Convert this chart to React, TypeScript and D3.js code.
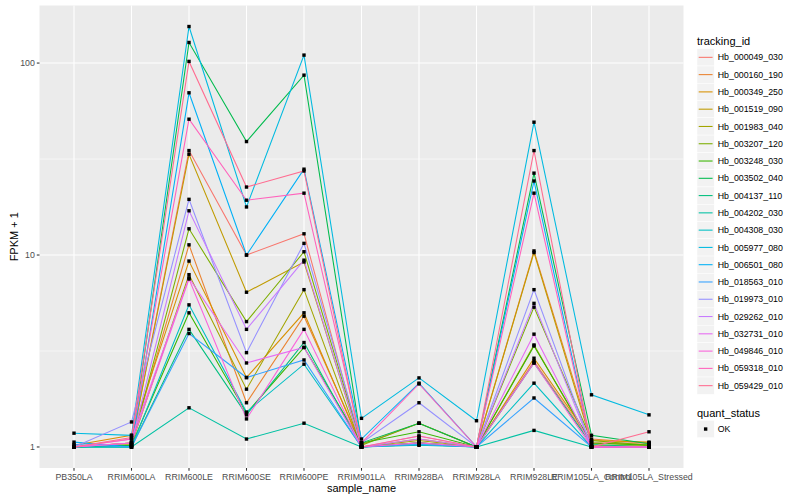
import React from "react";
import * as d3 from "d3";

const samples = [
  "PB350LA", "RRIM600LA", "RRIM600LE", "RRIM600SE", "RRIM600PE", "RRIM901LA",
  "RRIM928BA", "RRIM928LA", "RRIM928LE", "RRIM105LA_Control", "RRIM105LA_Stressed",
];

const trackingIds = [
  "Hb_000049_030", "Hb_000160_190", "Hb_000349_250", "Hb_001519_090", "Hb_001983_040",
  "Hb_003207_120", "Hb_003248_030", "Hb_003502_040", "Hb_004137_110", "Hb_004202_030",
  "Hb_004308_030", "Hb_005977_080", "Hb_006501_080", "Hb_018563_010", "Hb_019973_010",
  "Hb_029262_010", "Hb_032731_010", "Hb_049846_010", "Hb_059318_010", "Hb_059429_010",
];

const seriesColors = [
  "#F8766D", "#EA8331", "#D89000", "#C09B00", "#A3A500", "#7CAE00", "#39B600", "#00BB4E",
  "#00BF7D", "#00C1A3", "#00BFC4", "#00BAE0", "#00B0F6", "#35A2FF", "#9590FF", "#C77CFF",
  "#E76BF3", "#FA62DB", "#FF62BC", "#FF6C91",
];

// FPKM + 1 per tracking id, in sample order
const v000049 = [1, 1.05, 35, 10, 12.9, 1, 1.05, 1, 2.8, 1.05, 1.05];
const v000160 = [1, 1.05, 11.3, 1.7, 4.8, 1.03, 1.33, 1, 10.5, 1.1, 1.05];
const v000349 = [1.02, 1.15, 9.3, 2.3, 5.0, 1, 1.1, 1, 2.9, 1.08, 1.06];
const v001519 = [1, 1.05, 33.5, 6.4, 9.2, 1, 1.05, 1, 10.3, 1.05, 1.03];
const v001983 = [1, 1.03, 7.9, 2.0, 6.6, 1, 1.08, 1, 3.4, 1.02, 1.02];
const v003207 = [1, 1.02, 13.7, 4.5, 10.4, 1.02, 1.33, 1, 5.35, 1.08, 1.02];
const v003248 = [1, 1.02, 5.0, 1.5, 3.3, 1.05, 1.2, 1, 3.36, 1.05, 1.02];
const v003502 = [1, 1.02, 128, 39, 86.5, 1.05, 1.33, 1, 26.7, 1.15, 1.04];
const v004137 = [1, 1.0, 4.1, 1.47, 3.5, 1, 1.05, 1, 2.74, 1.03, 1];
const v004202 = [1, 1.0, 1.6, 1.1, 1.33, 1, 1.02, 1, 1.22, 1, 1];
const v004308 = [1, 1.0, 5.5, 1.52, 2.7, 1, 1.03, 1, 2.15, 1, 1];
const v005977 = [1.18, 1.15, 155, 17.8, 110, 1.41, 2.29, 1.37, 49.2, 1.87, 1.47];
const v006501 = [1.06, 1.0, 70, 10, 28, 1.1, 2.15, 1, 24.3, 1, 1];
const v018563 = [1.03, 1.0, 3.9, 2.3, 2.84, 1, 1.03, 1, 1.8, 1, 1];
const v019973 = [1, 1.35, 19.5, 3.1, 11.5, 1.05, 1.7, 1, 6.6, 1, 1];
const v029262 = [1, 1.05, 17, 4.1, 9.4, 1, 1.1, 1, 5.6, 1, 1];
const v032731 = [1, 1.1, 7.6, 2.74, 3.3, 1, 1.14, 1, 3.87, 1, 1];
const v049846 = [1, 1.05, 7.5, 1.4, 4.1, 1, 1.05, 1, 2.74, 1, 1];
const v059318 = [1, 1.1, 51, 19.3, 21, 1.05, 2.13, 1, 21, 1, 1];
const v059429 = [1, 1.12, 102, 22.6, 27.4, 1, 1.14, 1, 35, 1, 1.2];

const seriesValues = [
  v000049, v000160, v000349, v001519, v001983, v003207, v003248, v003502, v004137, v004202,
  v004308, v005977, v006501, v018563, v019973, v029262, v032731, v049846, v059318, v059429,
];

const yTicks = [1, 10, 100];
const yMinor = [Math.pow(10, 0.5), Math.pow(10, 1.5)];

const W = 800;
const H = 500;
const panel = { left: 39.5, right: 683.5, top: 5.5, bottom: 468 };
const FONT = "'Liberation Sans', Arial, Helvetica, sans-serif";

export default function App() {
  const all = seriesValues.flat();
  const lo = Math.log10(d3.min(all)!);
  const hi = Math.log10(d3.max(all)!);
  const pad = (hi - lo) * 0.05;
  const y = d3
    .scaleLog()
    .domain([Math.pow(10, lo - pad), Math.pow(10, hi + pad)])
    .range([panel.bottom, panel.top]);
  const x = d3
    .scalePoint<string>()
    .domain(samples)
    .range([panel.left, panel.right])
    .padding(0.6);

  const line = d3
    .line<number>()
    .x((_, i) => x(samples[i])!)
    .y((d) => y(d));

  const legX = 697;
  const keyH = 17.28;
  const legTop = 48.7;
  const sq = 3.4;

  return (
    <svg
      width={W}
      height={H}
      style={{ position: "absolute", left: 0, top: 0, background: "#fff" }}
      fontFamily={FONT}
    >
      <rect x={0} y={0} width={W} height={H} fill="#fff" />
      <rect
        x={panel.left}
        y={panel.top}
        width={panel.right - panel.left}
        height={panel.bottom - panel.top}
        fill="#EBEBEB"
      />
      {yMinor.map((t) => (
        <line key={"ym" + t} x1={panel.left} x2={panel.right} y1={y(t)} y2={y(t)} stroke="#fff" strokeWidth={0.55} />
      ))}
      {yTicks.map((t) => (
        <line key={"yg" + t} x1={panel.left} x2={panel.right} y1={y(t)} y2={y(t)} stroke="#fff" strokeWidth={1.07} />
      ))}
      {samples.map((s) => (
        <line key={"xg" + s} x1={x(s)} x2={x(s)} y1={panel.top} y2={panel.bottom} stroke="#fff" strokeWidth={1.07} />
      ))}

      {seriesValues.map((vals, i) => (
        <path key={"l" + i} d={line(vals)!} fill="none" stroke={seriesColors[i]} strokeWidth={1.07} />
      ))}
      {seriesValues.map((vals, i) =>
        vals.map((v, j) => (
          <rect
            key={"p" + i + "_" + j}
            x={x(samples[j])! - sq / 2}
            y={y(v) - sq / 2}
            width={sq}
            height={sq}
            fill="#000"
          />
        ))
      )}

      {/* y axis */}
      {yTicks.map((t) => (
        <g key={"yt" + t}>
          <line x1={panel.left - 2.7} x2={panel.left} y1={y(t)} y2={y(t)} stroke="#333" strokeWidth={1.07} />
          <text x={panel.left - 4.6} y={y(t) + 3.1} textAnchor="end" fontSize={8.8} fill="#4D4D4D">
            {t}
          </text>
        </g>
      ))}
      <text
        transform={`translate(17.5, ${(panel.top + panel.bottom) / 2}) rotate(-90)`}
        textAnchor="middle"
        fontSize={11}
        fill="#000"
      >
        FPKM + 1
      </text>

      {/* x axis */}
      {samples.map((s) => (
        <g key={"xt" + s}>
          <line x1={x(s)} x2={x(s)} y1={panel.bottom} y2={panel.bottom + 2.7} stroke="#333" strokeWidth={1.07} />
          <text x={x(s)} y={panel.bottom + 12.3} textAnchor="middle" fontSize={8.8} fill="#4D4D4D">
            {s}
          </text>
        </g>
      ))}
      <text x={(panel.left + panel.right) / 2} y={492} textAnchor="middle" fontSize={11} fill="#000">
        sample_name
      </text>

      {/* legend: tracking_id */}
      <text x={legX} y={44.5} fontSize={11} fill="#000">
        tracking_id
      </text>
      {trackingIds.map((id, i) => {
        const top = legTop + i * keyH;
        return (
          <g key={"lg" + id}>
            <rect x={legX} y={top} width={keyH} height={keyH} fill="#F2F2F2" stroke="#fff" strokeWidth={0.5} />
            <line
              x1={legX + 1.7}
              x2={legX + keyH - 1.7}
              y1={top + keyH / 2}
              y2={top + keyH / 2}
              stroke={seriesColors[i]}
              strokeWidth={1.07}
            />
            <text x={legX + keyH + 3.5} y={top + keyH / 2 + 3.1} fontSize={8.8} fill="#000">
              {id}
            </text>
          </g>
        );
      })}

      {/* legend: quant_status */}
      <text x={legX} y={417} fontSize={11} fill="#000">
        quant_status
      </text>
      <rect x={legX} y={420.4} width={keyH} height={keyH} fill="#F2F2F2" stroke="#fff" strokeWidth={0.5} />
      <rect x={legX + keyH / 2 - sq / 2} y={420.4 + keyH / 2 - sq / 2} width={sq} height={sq} fill="#000" />
      <text x={legX + keyH + 3.5} y={420.4 + keyH / 2 + 3.1} fontSize={8.8} fill="#000">
        OK
      </text>
    </svg>
  );
}
